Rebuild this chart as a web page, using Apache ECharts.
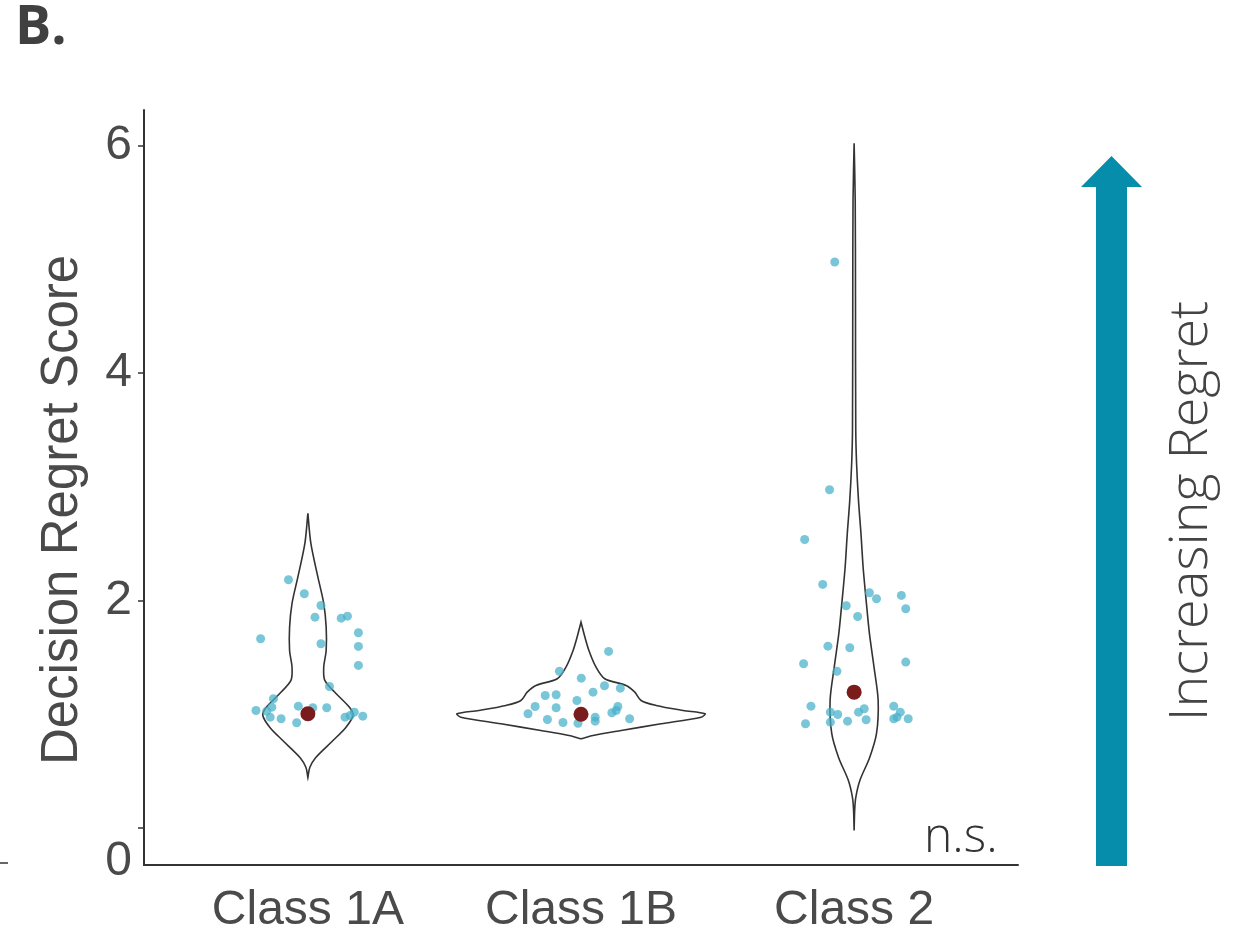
<!DOCTYPE html>
<html>
<head>
<meta charset="utf-8">
<title>Decision Regret Score</title>
<script src="https://cdn.jsdelivr.net/npm/echarts@6/dist/echarts.min.js"></script>
<style>
  html, body { margin: 0; padding: 0; background: #fff; }
  #main { width: 1245px; height: 937px; }
</style>
</head>
<body>
<div id="main"></div>
<script>
// categories sit at x = 1, 2, 3 on a value axis
var categories = ['Class 1A', 'Class 1B', 'Class 2'];
var yTicks = [0, 2, 4, 6];

// violin outline: [score, half width in category units]
var violin1A = [[2.765,0],[2.501,0.011],[2.202,0.037],[1.974,0.058],[1.763,0.067],[1.560,0.067],
  [1.411,0.058],[1.297,0.062],[1.182,0.103],[1.059,0.153],[0.989,0.165],[0.884,0.139],
  [0.769,0.092],[0.620,0.029],[0.532,0.007],[0.444,0]];
var violin1B = [[1.809,0],[1.707,0.011],[1.560,0.029],[1.414,0.055],[1.312,0.087],[1.253,0.165],
  [1.194,0.197],[1.121,0.220],[1.077,0.275],[1.033,0.374],[1.004,0.454],[0.974,0.440],
  [0.916,0.293],[0.857,0.147],[0.813,0.044],[0.784,0]];
var violin2 = [[6.018,0],[5.516,0.004],[4.637,0.005],[3.495,0.006],[3.204,0.009],[2.879,0.016],
  [2.589,0.025],[2.290,0.033],[2.000,0.044],[1.710,0.056],[1.411,0.073],[1.121,0.088],
  [0.831,0.082],[0.620,0.057],[0.418,0.021],[0.268,0.006],[0.154,0.002],[-0.022,0]];

// individual scores [jittered x, score]
var points1A = [[0.929,2.182],[0.987,2.059],[1.048,1.956],[1.026,1.853],[1.122,1.844],[1.145,1.862],
  [1.185,1.716],[0.827,1.663],[1.048,1.619],[1.185,1.596],[1.185,1.429],[1.079,1.244],
  [0.874,1.136],[0.868,1.062],[0.849,1.027],[0.810,1.033],[0.965,1.071],[1.018,1.057],
  [1.069,1.057],[0.862,0.974],[0.902,0.960],[0.959,0.925],[1.136,0.974],[1.155,0.989],
  [1.170,1.018],[1.201,0.983]];
var points1B = [[2.101,1.552],[1.921,1.378],[2.001,1.317],[2.086,1.250],[2.144,1.229],[1.869,1.165],
  [1.909,1.171],[2.044,1.194],[1.985,1.121],[1.832,1.068],[1.909,1.057],[1.806,1.004],
  [2.135,1.068],[2.129,1.033],[2.113,1.013],[1.877,0.954],[1.934,0.927],[1.989,0.921],
  [2.052,0.974],[2.052,0.939],[2.178,0.960]];
var points2 = [[2.929,4.974],[2.910,2.973],[2.819,2.536],[2.885,2.141],[3.056,2.068],[3.082,2.015],
  [3.173,2.044],[3.189,1.927],[2.971,1.953],[3.013,1.859],[2.904,1.598],[2.984,1.584],
  [2.815,1.444],[3.189,1.458],[2.937,1.378],[2.842,1.071],[2.913,1.018],[2.940,0.998],
  [3.016,1.018],[3.037,1.048],[3.145,1.071],[3.169,1.018],[3.157,0.974],[3.145,0.960],
  [3.198,0.960],[2.822,0.916],[2.913,0.930],[2.976,0.939],[3.044,0.951]];
var means = [1.004, 1.000, 1.194];

var violins = [violin1A, violin1B, violin2];
var axisFont = 'Liberation Sans, Arial, sans-serif';

var chart = echarts.init(document.getElementById('main'));

function renderViolin(params, api) {
  var idx = api.value(0);
  var prof = violins[idx];
  var cx = idx + 1;
  var pts = [];
  for (var i = 0; i < prof.length; i++) {
    pts.push(api.coord([cx + prof[i][1], prof[i][0]]));
  }
  for (var j = prof.length - 1; j >= 0; j--) {
    pts.push(api.coord([cx - prof[j][1], prof[j][0]]));
  }
  return {
    type: 'polygon',
    shape: { points: pts, smooth: 0.3 },
    style: { fill: 'none', stroke: '#333', lineWidth: 1.6 }
  };
}

var option = {
  backgroundColor: '#fff',
  animation: false,
  grid: { left: 144, right: 227, top: 110, bottom: 72 },
  xAxis: {
    type: 'value',
    min: 0.4,
    max: 3.6,
    splitLine: { show: false },
    axisLine: { onZero: false, lineStyle: { color: '#333', width: 2 } },
    axisTick: { show: false },
    axisLabel: {
      customValues: [1, 2, 3],
      formatter: function (v) { return categories[Math.round(v) - 1]; },
      fontFamily: axisFont,
      fontSize: 48,
      color: '#4a4a4a',
      margin: 22
    }
  },
  yAxis: {
    type: 'value',
    min: -0.325,
    max: 6.31,
    splitLine: { show: false },
    axisLine: { show: true, onZero: false, lineStyle: { color: '#333', width: 2 } },
    axisTick: { show: true, customValues: yTicks, length: 6, lineStyle: { color: '#333', width: 1.5 } },
    axisLabel: {
      customValues: yTicks,
      fontFamily: axisFont,
      fontSize: 48,
      color: '#4a4a4a',
      margin: 12,
      formatter: function (v) { return v === 0 ? '{z|0}' : String(v); },
      rich: { z: { fontFamily: axisFont, fontSize: 48, color: '#4a4a4a', padding: [68, 0, 0, 0] } }
    }
  },
  series: [
    {
      type: 'custom',
      renderItem: renderViolin,
      data: [[0], [1], [2]],
      z: 2
    },
    {
      type: 'scatter',
      data: points1A.concat(points1B, points2),
      symbolSize: 9,
      itemStyle: { color: '#45b0c9', opacity: 0.72 },
      z: 3
    },
    {
      type: 'scatter',
      data: means.map(function (m, i) { return [i + 1, m]; }),
      symbolSize: 15,
      itemStyle: { color: '#7a1c1c', opacity: 1 },
      z: 4
    }
  ],
  graphic: [
    { type: 'text', left: 15, top: 2,
      style: { text: 'B.', font: 'bold 54px "Open Sans", sans-serif', fill: '#404040' } },
    { type: 'text', x: 63, y: 510, rotation: Math.PI / 2,
      style: { text: 'Decision Regret Score', font: '51px ' + axisFont, fill: '#4a4a4a',
        align: 'center', verticalAlign: 'middle' } },
    { type: 'text', x: 924, y: 814,
      style: { text: 'n.s.', font: '300 48px "Open Sans", sans-serif', fill: '#333',
        verticalAlign: 'top' } },
    { type: 'line', shape: { x1: 0, y1: 863, x2: 8, y2: 863 }, style: { stroke: '#333', lineWidth: 1.5 } },
    { type: 'polygon',
      shape: { points: [[1096, 866], [1127, 866], [1127, 187], [1142, 187], [1111.5, 156], [1081, 187], [1096, 187]] },
      style: { fill: '#058dab' } },
    { type: 'text', x: 1192, y: 511, rotation: Math.PI / 2,
      style: { text: 'Increasing Regret', font: '300 54px "Open Sans", sans-serif', fill: '#444',
        align: 'center', verticalAlign: 'middle' } }
  ]
};

chart.setOption(option);
</script>
</body>
</html>
